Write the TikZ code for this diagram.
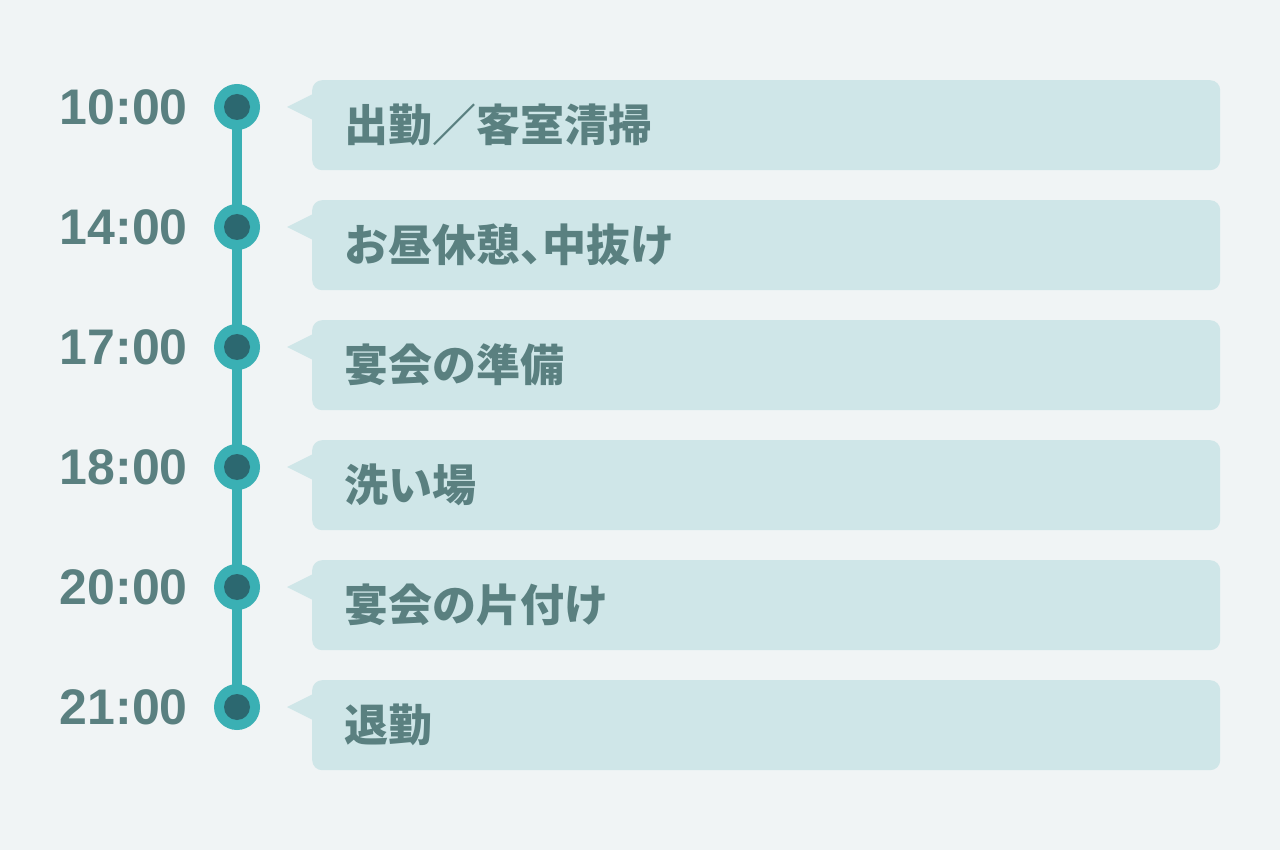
\documentclass[tikz,border=0pt]{standalone}
\usepackage{fontspec}
\setmainfont{Liberation Sans}
\newfontfamily\jpfont{Noto Sans CJK JP}
\definecolor{bgcol}{HTML}{F0F4F5}
\definecolor{boxcol}{HTML}{CFE6E8}
\definecolor{linecol}{HTML}{3AB0B4}
\definecolor{dotcol}{HTML}{2C6870}
\definecolor{txtcol}{HTML}{5A8080}
\newcommand{\halfcomma}{{\addfontfeature{RawFeature=+halt}、}}
\tikzset{
  timelbl/.style={anchor=east, text=txtcol, inner sep=0pt, font=\fontsize{50}{50}\selectfont\bfseries},
  eventbox/.style={anchor=north west, fill=boxcol, rounded corners=10pt, minimum width=908pt,
    minimum height=90pt, text width=844pt, inner xsep=32pt, inner ysep=0pt, align=left,
    text=txtcol, font=\jpfont\fontsize{44}{44}\selectfont\bfseries},
  dotring/.style={circle, fill=linecol, minimum size=46pt, inner sep=0pt},
  dotcore/.style={circle, fill=dotcol, minimum size=26pt, inner sep=0pt}
}
\begin{document}
\begin{tikzpicture}[x=1pt, y=-1pt]
\fill[bgcol] (0,0) rectangle (1280,850);
\foreach \i in {1,...,6} {
  \coordinate (t\i) at (237,{107+120*(\i-1)});
}
\draw[linecol, line width=10pt] (t1) -- (t6);
\foreach \tm/\lbl [count=\i, evaluate=\i as \yy using 107+120*(\i-1)] in
  {10:00/出勤／客室清掃, 14:00/お昼休憩\halfcomma 中抜け, 17:00/宴会の準備,
   18:00/洗い場, 20:00/宴会の片付け, 21:00/退勤} {
  \node[timelbl] (tm\i) at (188,\yy) {\tm};
  \node[dotring] (d\i) at (t\i) {};
  \node[dotcore] at (d\i) {};
  \fill[boxcol] (287,\yy) -- (313,\yy-13) -- (313,\yy+13) -- cycle;
  \node[eventbox] (ev\i) at (312,\yy-27) {\lbl};
}
\end{tikzpicture}
\end{document}
